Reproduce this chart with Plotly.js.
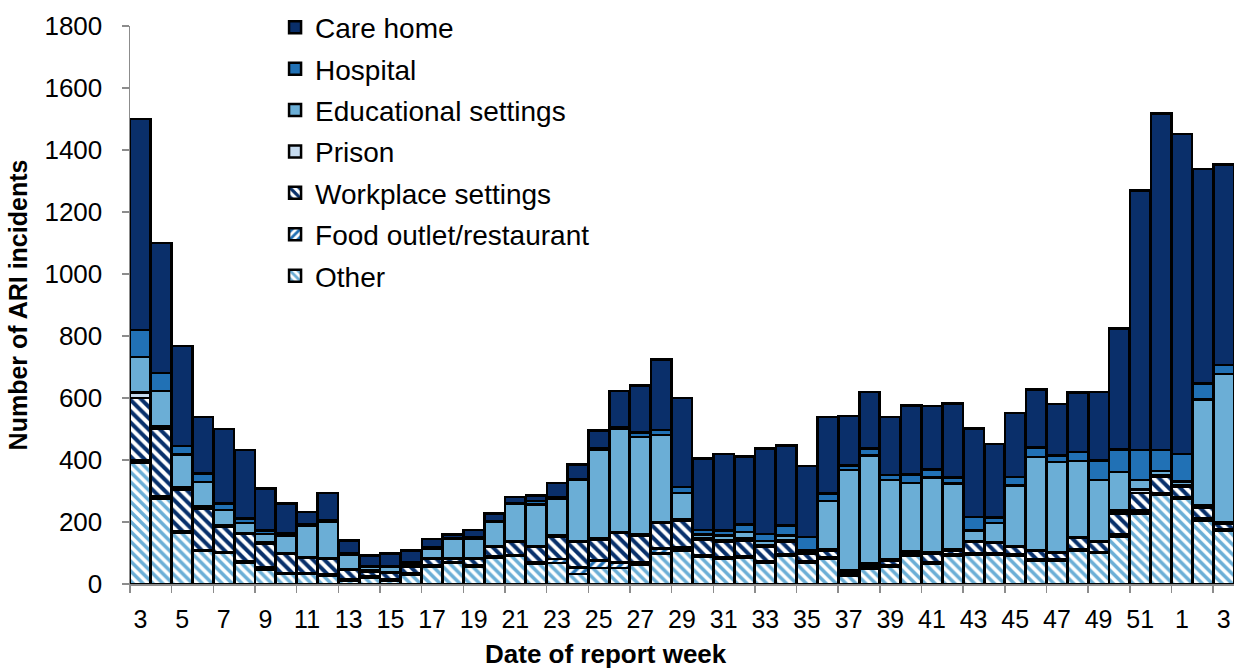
<!DOCTYPE html>
<html>
<head>
<meta charset="utf-8">
<script src="https://cdn.plot.ly/plotly-3.0.1.min.js"></script>
<style>
  html, body { margin: 0; padding: 0; background: #fff; }
  #chart { width: 1235px; height: 671px; }
</style>
</head>
<body>
<div id="chart"></div>
<script>
// Report weeks (week 3 of year 1 through week 3 of the following year)
const weeks = [3,4,5,6,7,8,9,10,11,12,13,14,15,16,17,18,19,20,21,22,23,24,25,26,27,28,29,30,31,32,33,34,35,36,37,38,39,40,41,42,43,44,45,46,47,48,49,50,51,52,1,2,3];

// Number of ARI incidents by setting (stack order bottom -> top)
const other      = [390,275,165,106,100,70,46,33,33,27,12,20,11,31,56,67,56,85,91,65,67,33,51,51,62,98,108,89,81,86,70,92,70,81,27,49,57,92,65,92,94,94,92,76,76,108,100,154,227,288,275,205,173];
const foodOutlet = [8,8,5,4,3,4,8,3,3,3,3,4,4,3,5,3,5,3,3,5,13,21,25,19,8,16,10,4,4,5,5,5,5,4,5,5,5,3,5,4,5,5,4,4,4,5,4,8,10,5,5,6,5];
const workplace  = [202,219,135,133,83,88,76,62,49,51,31,17,20,22,20,10,20,33,41,51,74,81,67,94,87,83,87,50,50,50,44,38,23,23,6,9,14,5,28,12,36,33,23,26,21,36,31,65,57,52,33,35,17];
const prison     = [18,8,8,7,5,3,4,2,2,2,2,2,3,2,2,2,2,2,3,2,3,3,3,3,3,3,3,5,5,6,5,5,4,3,5,3,3,5,3,3,3,3,3,3,3,3,3,10,11,5,5,9,5];
const education  = [115,112,105,79,47,32,28,57,100,117,47,12,17,8,31,64,63,77,121,134,118,197,288,335,315,280,86,12,17,20,14,17,8,157,324,349,256,221,242,213,35,62,196,301,290,245,197,124,30,15,12,340,477];
const hospital   = [87,58,27,27,21,14,10,8,5,5,5,3,3,5,5,2,5,3,3,10,5,3,3,3,13,16,19,15,16,25,24,32,41,24,16,22,16,27,26,19,43,17,27,30,21,29,64,73,97,67,89,52,29];
const careHome   = [680,420,323,183,241,221,136,94,40,88,40,34,40,37,26,12,24,24,18,18,46,47,58,117,152,229,287,230,246,220,275,257,229,247,159,183,188,223,205,240,286,237,207,188,165,191,221,391,838,1086,1033,692,647];

const seriesNames = ["Other","Food outlet/restaurant","Workplace settings","Prison","Educational settings","Hospital","Care home"];
const seriesData  = [other, foodOutlet, workplace, prison, education, hospital, careHome];

const xIdx = weeks.map((w, i) => i);
const tickVals = xIdx.filter(i => i % 2 === 0);
const tickText = tickVals.map(i => String(weeks[i]));

const styles = [
  {color:'#6BAED6', pattern:{shape:'\\', fgcolor:'#6BAED6', bgcolor:'#ffffff', fillmode:'replace', size:7, solidity:0.5}},
  {color:'#2171B5', pattern:{shape:'/', fgcolor:'#2171B5', bgcolor:'#ffffff', fillmode:'replace', size:7, solidity:0.5}},
  {color:'#08306B', pattern:{shape:'\\', fgcolor:'#08306B', bgcolor:'#ffffff', fillmode:'replace', size:8, solidity:0.5}},
  {color:'#C6DBEF'},
  {color:'#6BAED6'},
  {color:'#2171B5'},
  {color:'#0A2F6A'}
];

const traces = seriesNames.map((name, k) => {
  const m = {color: styles[k].color, line:{color:'#000000', width:2.5}};
  if (styles[k].pattern) m.pattern = styles[k].pattern;
  return {
    type:'bar', name:name, x:xIdx, y:seriesData[k], marker:m,
    legendgroup:'g'+k, legendrank: 100 - k, hoverinfo:'name+y'
  };
});

const font = 'Liberation Sans, Arial, sans-serif';

const layout = {
  width:1235, height:671,
  margin:{l:130, r:1, t:26, b:87},
  barmode:'stack', bargap:0.02,
  paper_bgcolor:'#ffffff', plot_bgcolor:'#ffffff',
  font:{family:font, color:'#000000', size:26},
  showlegend:true,
  legend:{
    x:0.1314, y:1.042, xanchor:'left', yanchor:'top',
    traceorder:'grouped', tracegroupgap:2,
    font:{family:font, size:28, color:'#000000'},
    bgcolor:'rgba(255,255,255,0)'
  },
  xaxis:{
    range:[-0.5, 52.5], tickmode:'array', tickvals:tickVals, ticktext:tickText,
    ticks:'', showgrid:false, zeroline:false,
    showline:true, linecolor:'#8c8c8c', linewidth:1.5,
    tickfont:{family:font, size:25, color:'#000000'},
    ticklabelstandoff:12,
    minor:{tickmode:'linear', tick0:-0.5, dtick:2, ticks:'outside', ticklen:7, tickcolor:'#8c8c8c', tickwidth:1.5, showgrid:false}
  },
  yaxis:{
    range:[0,1800], tickmode:'linear', tick0:0, dtick:200,
    ticks:'outside', ticklen:7, tickcolor:'#8c8c8c', tickwidth:1.5,
    showgrid:false, zeroline:false,
    showline:true, linecolor:'#8c8c8c', linewidth:1.5,
    tickfont:{family:font, size:26, color:'#000000'},
    ticklabelstandoff:14,
    title:{text:'<b>Number of ARI incidents</b>', font:{family:font, size:25, color:'#000000'}, standoff:9}
  },
  annotations:[{
    text:'<b>Date of report week</b>', xref:'paper', yref:'paper',
    x:(606-130)/1104, y:-(670-584)/558, xanchor:'center', yanchor:'bottom',
    showarrow:false, borderpad:0, font:{family:font, size:26, color:'#000000'}
  }]
};

Plotly.newPlot('chart', traces, layout, {displayModeBar:false, staticPlot:true});
</script>
</body>
</html>
